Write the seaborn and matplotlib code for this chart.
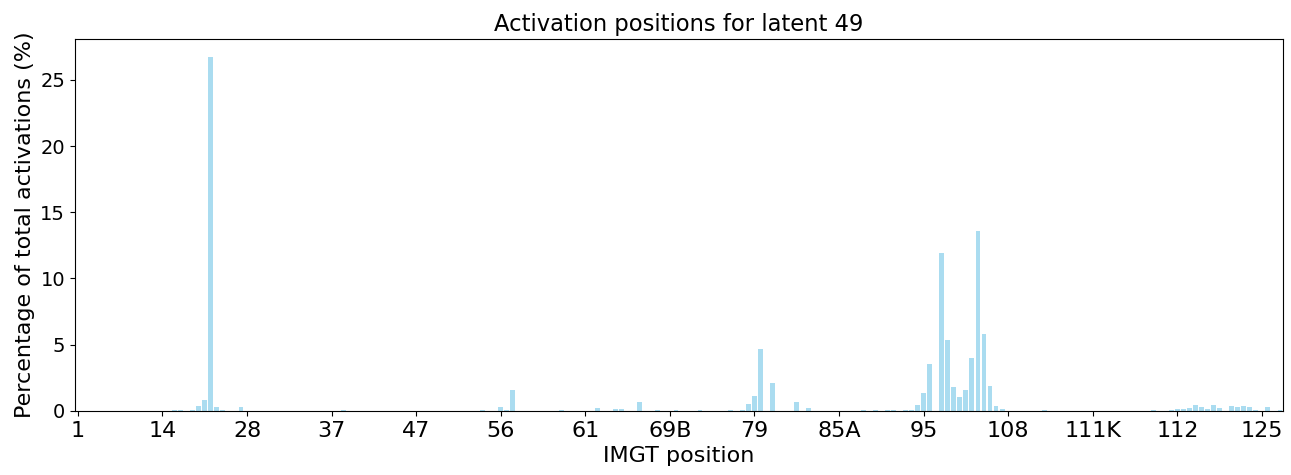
import matplotlib
matplotlib.use("Agg")
import matplotlib.pyplot as plt
import seaborn as sns
import pandas as pd

# IMGT position categories (200 positions, in plotted order)
categories = [
    "1", "2", "3", "4", "5", "6", "7", "8", "9", "10", "11", "12", "13", "13A",
    "14", "15", "16", "17", "18", "19", "20", "21", "22", "23", "24", "25", "26", "27",
    "28", "29", "30", "31", "32", "32A", "32B", "32C", "33B", "33A", "33", "34", "35", "36",
    "37", "38", "39", "40", "40A", "41", "42", "43", "44", "44A", "45", "45A", "46", "46A",
    "47", "48", "49", "50", "51", "52", "53", "54", "55", "55A", "55B", "55C", "55D", "55E",
    "56", "57", "58", "59", "60", "60A", "60B", "60C", "60D", "60E", "60F", "60G", "60H", "60I",
    "61", "61A", "61B", "62", "63", "64", "65", "66", "67", "67A", "68", "68A", "69", "69A",
    "69B", "69C", "70", "71", "72", "73", "73A", "74", "75", "76", "77", "77A", "78", "78A",
    "79", "80", "80A", "81", "81A", "81B", "82", "82A", "82B", "82C", "83", "84", "84A", "85",
    "85A", "85B", "85C", "86", "87", "88", "89", "90", "91", "92", "92A", "93", "93A", "94",
    "95", "96", "97", "98", "99", "100", "100A", "101", "102", "103", "104", "105", "106", "107",
    "108", "109", "110", "111", "111A", "111B", "111C", "111D", "111E", "111F", "111G", "111H", "111I", "111J",
    "111K", "111L", "112L", "112K", "112J", "112I", "112H", "112G", "112F", "112E", "112D", "112C", "112B", "112A",
    "112", "113", "114", "115", "116", "117", "117A", "118", "119", "120", "121", "122", "123", "124",
    "125", "126", "127", "128",
]

# Percentage of total activations per position
percentages = [
    0, 0, 0, 0, 0, 0, 0, 0, 0, 0, 0, 0, 0, 0,
    0, 0, 0.03, 0.03, 0, 0.04, 0.35, 0.80, 26.75, 0.28, 0.08, 0, 0, 0.28,
    0, 0, 0.02, 0, 0, 0, 0, 0, 0, 0, 0, 0, 0, 0,
    0, 0, 0.03, 0, 0, 0, 0, 0, 0, 0, 0, 0, 0, 0,
    0, 0, 0, 0, 0, 0, 0, 0, 0, 0, 0, 0.05, 0, 0,
    0.33, 0.08, 1.55, 0, 0, 0, 0, 0.02, 0, 0, 0.03, 0, 0, 0,
    0, 0, 0.18, 0, 0.02, 0.12, 0.12, 0, 0, 0.68, 0, 0, 0.07, 0,
    0, 0.03, 0, 0, 0, 0.05, 0, 0, 0.02, 0, 0.05, 0, 0.08, 0.53,
    1.13, 4.68, 0, 2.14, 0, 0, 0, 0.68, 0, 0.22, 0, 0, 0.02, 0,
    0, 0, 0, 0, 0.07, 0, 0.03, 0, 0.06, 0.06, 0, 0.06, 0.09, 0.45,
    1.35, 3.55, 0, 11.90, 5.39, 1.81, 1.08, 1.54, 3.98, 13.55, 5.77, 1.86, 0.40, 0.17,
    0, 0.02, 0, 0, 0, 0, 0.03, 0, 0, 0, 0, 0.02, 0, 0,
    0, 0, 0, 0, 0.02, 0, 0, 0, 0, 0, 0.03, 0, 0, 0.03,
    0.12, 0.13, 0.20, 0.48, 0.28, 0.15, 0.48, 0.20, 0, 0.35, 0.28, 0.35, 0.28, 0.10,
    0, 0.28, 0, 0.08,
]

tick_labels = ["1", "14", "28", "37", "47", "56", "61", "69B", "79", "85A",
               "95", "108", "111K", "112", "125"]

df = pd.DataFrame({"position": categories, "pct": percentages})

fig = plt.figure(figsize=(12.91, 4.75), dpi=100)
ax = fig.add_axes([0.058, 0.135, 0.9358, 0.783])

sns.barplot(data=df, x="position", y="pct", order=categories,
            color="skyblue", alpha=0.7, saturation=1, ax=ax)

ax.set_xticks([categories.index(t) for t in tick_labels])
ax.set_xticklabels(tick_labels, fontsize=16)
ax.tick_params(axis="y", labelsize=14)
ax.set_xlabel("IMGT position", fontsize=16)
ax.set_ylabel("Percentage of total activations (%)", fontsize=16)
ax.set_title("Activation positions for latent 49", fontsize=16.3)
ax.set_xlim(-0.5, len(categories) - 0.5)
ax.set_ylim(0, max(percentages) * 1.05)

fig.savefig("out.png", dpi=100)
